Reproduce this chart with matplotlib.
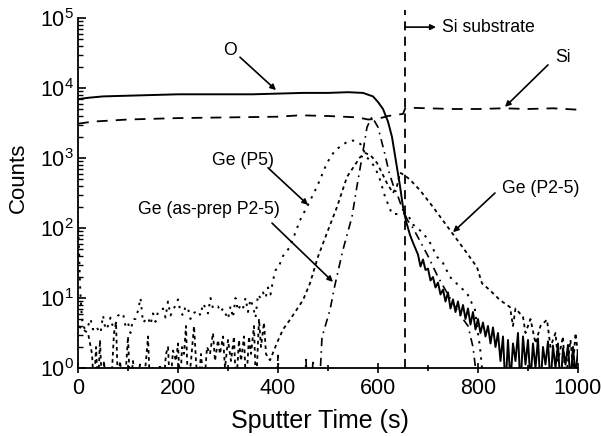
import matplotlib.pyplot as plt
import numpy as np

plt.rcParams['font.family'] = ['Liberation Sans', 'DejaVu Sans']
plt.rcParams['mathtext.fontset'] = 'custom'
plt.rcParams['mathtext.rm'] = 'Liberation Sans'
plt.rcParams['mathtext.it'] = 'Liberation Sans:italic'
plt.rcParams['mathtext.bf'] = 'Liberation Sans:bold'

# O (solid) - time (s), log10(counts)
o_t = [0, 20, 50, 100, 150, 200, 250, 300, 350, 400, 450, 500, 540, 570, 590, 600, 610, 620, 628, 636,
       644, 650, 656, 664, 670, 680, 685, 690, 695, 700, 705, 710, 715, 720, 725, 730, 735, 740, 745, 750,
       755, 760, 765, 770, 775, 780, 785, 790, 795, 800, 805, 810, 815, 820, 825, 830, 835, 840, 845, 850,
       855, 860, 865, 870, 875, 880, 885, 890, 895, 900, 905, 910, 915, 920, 925, 930, 935, 940, 945, 950,
       955, 960, 965, 970, 975, 980, 985, 990, 995, 1000]
o_log = [3.84, 3.86, 3.88, 3.89, 3.90, 3.91, 3.91, 3.91, 3.91, 3.92, 3.93, 3.93, 3.94, 3.93, 3.88, 3.80, 3.70, 3.52, 3.30, 2.95,
         2.60, 2.30, 2.10, 1.90, 1.79, 1.62, 1.45, 1.55, 1.40, 1.42, 1.25, 1.30, 1.15, 1.22, 1.05, 1.12, 0.95, 1.08, 0.85, 0.98,
         0.80, 0.95, 0.75, 0.90, 0.70, 0.85, 0.62, 0.80, 0.55, 0.70, 0.50, 0.65, 0.45, 0.60, 0.35, 0.58, 0.30, 0.50, 0.10, 0.45,
         -0.30, 0.40, -0.20, 0.35, 0.10, 0.50, -0.30, 0.45, 0.05, 0.40, -0.20, 0.35, 0.00, 0.42, -0.30, 0.30, 0.05, 0.38, -0.25, 0.32,
         0.00, 0.35, -0.30, 0.28, 0.05, 0.33, -0.20, 0.30, -0.10, 0.25]

# Si (dashed)
si_t = [0, 30, 100, 200, 300, 400, 444, 500, 560, 580, 600, 620, 640, 650, 655, 700, 750, 800, 850, 900, 950, 1000]
si_log = [3.49, 3.52, 3.55, 3.57, 3.58, 3.59, 3.61, 3.60, 3.58, 3.55, 3.56, 3.60, 3.62, 3.63, 3.72, 3.71, 3.70, 3.70, 3.71, 3.70, 3.71, 3.69]

# Ge (P5) (dotted)
p5_t = [0, 2, 4, 6, 8, 10, 15, 20, 25, 30, 35, 40, 45, 50, 55, 60, 65, 70, 75, 80, 90, 95, 100, 105, 110, 115,
        120, 125, 130, 140, 145, 150, 155, 160, 170, 175, 180, 185, 190, 200, 205, 210, 215, 220, 225, 230, 235,
        240, 245, 250, 255, 260, 265, 270, 280, 285, 290, 300, 305, 310, 315, 320, 325, 330, 335, 340, 345, 350,
        355, 360, 365, 370, 375, 380, 385, 390, 395, 400, 410, 424, 444, 460, 478, 498, 514, 538, 550, 565, 578,
        594, 604, 614, 628, 640, 658, 670, 690, 704, 718, 730, 744, 764, 778, 794, 798, 804, 808, 812]
p5_log = [2.10, 1.70, 1.20, 0.90, 0.70, 0.60, 0.55, 0.60, 0.70, 0.55, 0.60, 0.55, 0.50, 0.75, 0.55, 0.60, 0.72, 0.58, 0.62, 0.75, 0.78, 0.60, 0.65, 0.50, 0.70, 0.70,
          0.82, 1.00, 0.65, 0.72, 0.62, 0.78, 0.66, 0.80, 0.85, 0.72, 0.95, 0.75, 0.82, 0.98, 0.80, 0.75, 0.88, 0.85, 0.70, 0.78, 0.80,
          0.82, 0.75, 0.92, 0.86, 0.78, 1.00, 0.85, 0.88, 0.80, 0.85, 0.70, 0.88, 0.72, 1.00, 0.82, 0.90, 0.85, 1.00, 0.80, 0.98, 0.88,
          0.72, 1.05, 1.00, 1.08, 1.00, 1.15, 1.05, 1.25, 1.40, 1.42, 1.60, 1.73, 2.11, 2.33, 2.59, 2.93, 3.11, 3.23, 3.25, 3.20, 3.01,
          2.87, 2.69, 2.45, 2.20, 2.20, 2.21, 2.05, 1.93, 1.79, 1.59, 1.50, 1.30, 1.16, 1.07, 0.83, 0.59, 0.30, 0.00, -0.50]

# Ge (as-prep P2-5) (dash-dot)
asp_t = [0, 396, 400, 404, 452, 456, 460, 466, 470, 476, 482, 488, 504, 514, 530, 548, 558, 568, 578, 588,
         600, 614, 622, 630, 640, 650, 660, 670, 685, 700, 720, 740, 760, 780, 790, 800]
asp_log = [-0.50, -0.50, 0.18, -0.50, -0.50, 0.12, -0.50, -0.50, 0.12, -0.40, -0.40, 0.44, 0.83, 1.19, 1.69, 2.16, 2.60, 3.01, 3.44, 3.59,
           3.44, 3.05, 2.80, 2.62, 2.45, 2.25, 2.10, 2.00, 1.80, 1.60, 1.30, 1.05, 0.80, 0.60, 0.30, -0.30]

# Ge (P2-5) (short dashes)
p25_t = [0, 10, 20, 28, 32, 36, 40, 44, 48, 52, 56, 62, 66, 72, 76, 80, 84, 90, 96, 100, 104, 110, 116, 124, 130,
         136, 140, 144, 150, 156, 164, 170, 176, 180, 184, 190, 196, 200, 204, 208, 212, 216, 220, 226, 232, 236,
         240, 246, 252, 258, 264, 270, 274, 280, 284, 290, 294, 300, 306, 312, 316, 322, 326, 332, 336, 342, 346,
         352, 356, 362, 366, 372, 376, 384, 398, 410, 424, 450, 464, 480, 498, 518, 538, 564, 575, 585, 598, 618,
         630, 638, 644, 654, 664, 684, 710, 744, 778, 798, 808, 824, 844, 864, 870, 875, 890, 895, 905, 915, 925,
         938, 945, 955, 960, 970, 975, 985, 990, 995, 1000]
p25_log = [0.60, 0.55, 0.50, 0.20, -0.30, 0.30, -0.30, 0.40, -0.30, 0.10, -0.30, 0.00, -0.30, 0.50, 0.65, -0.30, 0.10, -0.30, 0.00, 0.45, -0.30, 0.10, -0.30, 0.05, -0.30,
           0.10, 0.45, -0.30, 0.00, -0.30, 0.05, -0.30, 0.20, 0.30, -0.30, 0.25, 0.10, 0.35, -0.30, 0.30, 0.20, 0.60, -0.30, 0.10, 0.60, 0.10,
           -0.30, 0.20, -0.30, 0.30, 0.20, 0.50, 0.10, 0.40, 0.20, 0.45, 0.00, 0.40, 0.10, 0.45, -0.30, 0.40, 0.10, 0.45, -0.30, 0.45, 0.20,
           0.60, -0.30, 0.70, 0.30, 0.65, 0.20, 0.11, 0.36, 0.55, 0.69, 0.97, 1.21, 1.59, 1.93, 2.30, 2.73, 3.01, 3.07, 3.04, 2.93, 2.64,
           2.50, 2.60, 2.79, 2.75, 2.69, 2.54, 2.30, 1.97, 1.64, 1.44, 1.21, 1.11, 0.97, 0.87, 0.60, 0.85, 0.73, 0.50, 0.70, 0.35, 0.60,
           0.69, 0.30, 0.50, 0.10, 0.45, -0.20, 0.40, 0.00, 0.50, 0.20]

substrate_t = 654

fig = plt.figure(figsize=(6.01, 4.36), dpi=100)
ax = fig.add_axes([0.1298, 0.156, 0.8319, 0.8027])

ax.plot(o_t, 10 ** np.array(o_log), color='black', lw=1.4, ls='-')
ax.plot(si_t, 10 ** np.array(si_log), color='black', lw=1.3, ls=(0, (6, 4.5)))
ax.plot(p5_t, 10 ** np.array(p5_log), color='black', lw=1.4, ls=(0, (1.2, 3)))
ax.plot(asp_t, 10 ** np.array(asp_log), color='black', lw=1.2, ls=(0, (5, 3, 1, 3)))
ax.plot(p25_t, 10 ** np.array(p25_log), color='black', lw=1.3, ls=(0, (2, 2)))

# Si substrate boundary
ax.plot([substrate_t, substrate_t], [1, 10 ** 5.11], color='black', lw=1.3, ls=(0, (5, 3.5)), clip_on=False)

ax.set_yscale('log')
ax.set_xlim(0, 1000)
ax.set_ylim(1, 1e5)
ax.set_xticks([0, 200, 400, 600, 800, 1000])
ax.set_xticks([100, 300, 500, 700, 900], minor=True)

for s in ['top', 'right']:
    ax.spines[s].set_visible(False)
for s in ['left', 'bottom']:
    ax.spines[s].set_linewidth(1.3)

ax.tick_params(axis='x', which='major', direction='inout', length=7, width=1.2, labelsize=15.5, pad=4)
ax.tick_params(axis='x', which='minor', direction='inout', length=5, width=1.2)
ax.tick_params(axis='y', which='major', direction='in', length=6, width=1.2, labelsize=15.5, pad=3)
ax.tick_params(axis='y', which='minor', direction='in', length=3.5, width=1.0)

ax.set_xlabel('Sputter Time (s)', fontsize=18, va='center')
ax.xaxis.set_label_coords(0.484, -0.151)
ax.set_ylabel('Counts', fontsize=16, va='center')
ax.yaxis.set_label_coords(-0.12, 0.543)

arrow = dict(arrowstyle='-|>', color='black', lw=1.2, mutation_scale=8, shrinkA=0, shrinkB=0)
ax.text(304, 10 ** 4.54, 'O', fontsize=12.7, ha='center', va='center')
ax.annotate('', xy=(396, 10 ** 3.97), xytext=(324, 10 ** 4.44), arrowprops=arrow)
ax.annotate('', xy=(854, 10 ** 3.73), xytext=(940, 10 ** 4.33), arrowprops=arrow)
ax.text(970, 10 ** 4.43, 'Si', fontsize=12.7, ha='center', va='center')
ax.annotate('', xy=(716, 10 ** 4.87), xytext=(substrate_t, 10 ** 4.87), arrowprops=arrow, annotation_clip=False)
ax.text(728, 10 ** 4.87, 'Si substrate', fontsize=12.7, ha='left', va='center')
ax.annotate('', xy=(460, 10 ** 2.33), xytext=(380, 10 ** 2.86), arrowprops=arrow)
ax.text(330, 10 ** 2.97, 'Ge (P5)', fontsize=12.7, ha='center', va='center')
ax.annotate('', xy=(510, 10 ** 1.23), xytext=(388, 10 ** 2.07), arrowprops=arrow)
ax.text(262, 10 ** 2.26, 'Ge (as-prep P2-5)', fontsize=12.7, ha='center', va='center')
ax.annotate('', xy=(750, 10 ** 1.94), xytext=(834, 10 ** 2.5), arrowprops=arrow)
ax.text(926, 10 ** 2.57, 'Ge (P2-5)', fontsize=12.7, ha='center', va='center')

plt.savefig('out.png', dpi=100)
